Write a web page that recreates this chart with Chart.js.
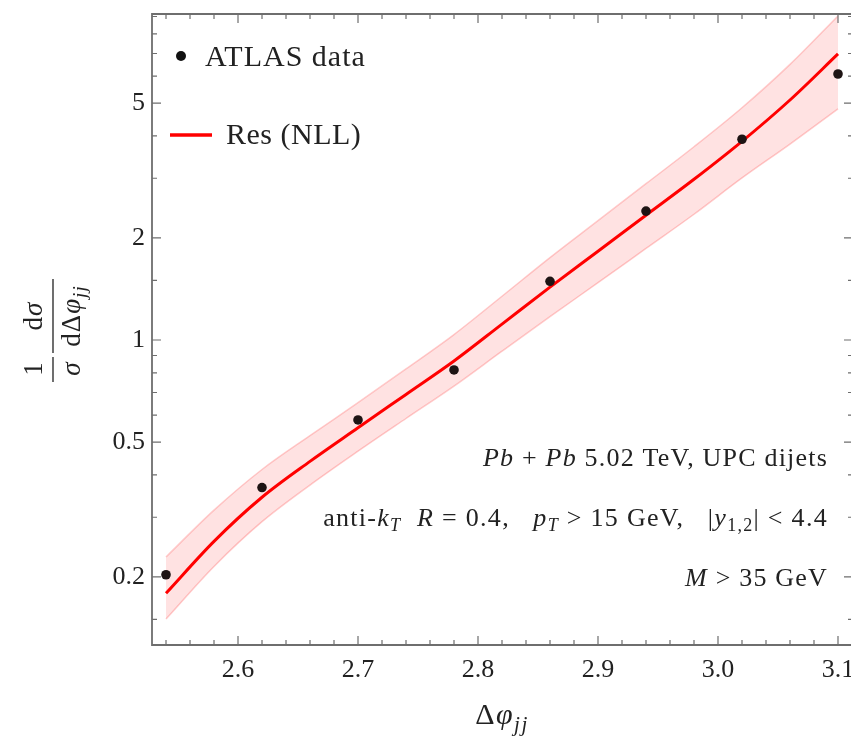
<!DOCTYPE html>
<html><head><meta charset="utf-8">
<script src="https://cdn.jsdelivr.net/npm/chart.js@4.4.1/dist/chart.umd.min.js"></script>
<style>
html,body{margin:0;padding:0;background:#fff;overflow:hidden;}
#wrap{width:851px;height:737px;overflow:hidden;position:relative;background:#fff;}
#c{position:absolute;left:0;top:0;}
</style></head><body>
<div id="wrap"><canvas id="c" width="880" height="737" style="width:880px;height:737px"></canvas></div>
<script>
// ---- data ----
const atlasPhi = [2.54, 2.62, 2.70, 2.78, 2.86, 2.94, 3.02, 3.10];
const atlasValues = [0.203, 0.367, 0.581, 0.816, 1.49, 2.40, 3.91, 6.09];
const curvePhi = [2.54, 2.58, 2.62, 2.66, 2.70, 2.74, 2.78, 2.82, 2.86, 2.90, 2.94, 2.98, 3.02, 3.06, 3.10];
const resCentral = [0.179, 0.2547, 0.3436, 0.4385, 0.5508, 0.691, 0.867, 1.114, 1.432, 1.828, 2.334, 2.979, 3.855, 5.105, 6.98];
const resUpper = [0.2291, 0.3148, 0.4150, 0.5224, 0.6531, 0.8214, 1.0375, 1.3459, 1.7498, 2.2491, 2.8907, 3.7154, 4.8417, 6.5013, 9.0365];
const resLower = [0.1503, 0.2148, 0.2911, 0.3733, 0.4699, 0.5867, 0.7311, 0.9268, 1.1722, 1.4757, 1.8621, 2.3496, 3.0061, 3.7844, 4.8084];
const xMajorTicks = [2.6, 2.7, 2.8, 2.9, 3.0, 3.1];
const xMinorTicks = [2.54, 2.56, 2.58, 2.62, 2.64, 2.66, 2.68, 2.72, 2.74, 2.76, 2.78, 2.82, 2.84, 2.86, 2.88, 2.92, 2.94, 2.96, 2.98, 3.02, 3.04, 3.06, 3.08];
const yMajorTicks = [0.2, 0.5, 1, 2, 5];
const yMinorTicks = [0.15, 0.3, 0.4, 0.6, 0.7, 0.8, 0.9, 1.5, 3, 4, 6, 7, 8, 9];
const xRange = [2.52833, 3.1125];
const yRange = [0.12597, 9.155];

const SERIF = '"Liberation Serif", "DejaVu Serif", serif';
const pts = (xs, ys) => xs.map((x, i) => ({x: x, y: ys[i]}));

function drawRich(ctx, segs, x, y, align, spacing) {
  ctx.letterSpacing = (spacing || 0) + 'px';
  let total = 0;
  const widths = segs.map(s => { ctx.font = s.f; const w = ctx.measureText(s.t).width; total += w; return w; });
  let cx = align === 'right' ? x - total : (align === 'center' ? x - total / 2 : x);
  ctx.textAlign = 'left';
  ctx.textBaseline = 'alphabetic';
  segs.forEach((s, i) => { ctx.font = s.f; ctx.fillText(s.t, cx, y + (s.dy || 0)); cx += widths[i]; });
  ctx.letterSpacing = '0px';
}

function noPad(s) { s.paddingTop = 0; s.paddingBottom = 0; s.paddingLeft = 0; s.paddingRight = 0; }

const deco = {
  id: 'deco',
  afterDraw(chart) {
    const ctx = chart.ctx, a = chart.chartArea;
    const xs = chart.scales.x, ys = chart.scales.y;
    ctx.save();
    // frame (left, top, bottom; right side lies beyond the visible page)
    ctx.strokeStyle = '#6e6e6e';
    ctx.lineWidth = 1.8;
    ctx.beginPath();
    ctx.moveTo(a.right + 5, a.top); ctx.lineTo(a.left, a.top); ctx.lineTo(a.left, a.bottom); ctx.lineTo(a.right + 5, a.bottom);
    ctx.stroke();
    ctx.lineWidth = 1.2;
    ctx.beginPath();
    const xt = (v, len) => {
      const p = xs.getPixelForValue(v);
      ctx.moveTo(p, a.bottom); ctx.lineTo(p, a.bottom - len);
      ctx.moveTo(p, a.top); ctx.lineTo(p, a.top + len);
    };
    const yt = (v, len) => {
      const p = ys.getPixelForValue(v);
      ctx.moveTo(a.left, p); ctx.lineTo(a.left + len, p);
      ctx.moveTo(a.right, p); ctx.lineTo(a.right - len, p);
    };
    xMajorTicks.forEach(v => xt(v, 9));
    xMinorTicks.forEach(v => xt(v, 5));
    yMajorTicks.forEach(v => yt(v, 9));
    yMinorTicks.forEach(v => yt(v, 5));
    ctx.stroke();

    // legend
    ctx.beginPath();
    ctx.fillStyle = '#111';
    ctx.arc(181, 56, 5, 0, Math.PI * 2);
    ctx.fill();
    ctx.fillStyle = '#222';
    drawRich(ctx, [{t: 'ATLAS data', f: '30px ' + SERIF}], 205, 66, 'left', 1);
    ctx.strokeStyle = '#ff0000';
    ctx.lineWidth = 3.5;
    ctx.beginPath(); ctx.moveTo(170, 135); ctx.lineTo(212, 135); ctx.stroke();
    drawRich(ctx, [{t: 'Res (NLL)', f: '30px ' + SERIF}], 226, 144, 'left', 0.5);

    // annotations
    const R = '26px ' + SERIF, I = 'italic 26px ' + SERIF, S = 'italic 18px ' + SERIF, SN = '18px ' + SERIF;
    drawRich(ctx, [{t: 'Pb', f: I}, {t: ' + ', f: R}, {t: 'Pb', f: I}, {t: ' 5.02 TeV, UPC dijets', f: R}], 828, 466, 'right', 1.2);
    drawRich(ctx, [{t: 'anti-', f: R}, {t: 'k', f: I}, {t: 'T', f: S, dy: 5}, {t: '  ', f: R}, {t: 'R', f: I}, {t: ' = 0.4,   ', f: R},
      {t: 'p', f: I}, {t: 'T', f: S, dy: 5}, {t: ' > 15 GeV,   |', f: R}, {t: 'y', f: I}, {t: '1,2', f: SN, dy: 5}, {t: '| < 4.4', f: R}], 828, 526, 'right', 1.3);
    drawRich(ctx, [{t: 'M', f: I}, {t: ' > 35 GeV', f: R}], 828, 586, 'right', 1.2);

    // x title
    drawRich(ctx, [{t: 'Δ', f: '30px ' + SERIF}, {t: 'φ', f: 'italic 30px ' + SERIF}, {t: 'jj', f: 'italic 21px ' + SERIF, dy: 7}], 502, 724, 'center', 1.5);

    // y title (rotated fraction)
    ctx.save();
    ctx.translate(53, 332);
    ctx.rotate(-Math.PI / 2);
    ctx.strokeStyle = '#222';
    ctx.lineWidth = 1.3;
    ctx.beginPath();
    ctx.moveTo(-50, 0); ctx.lineTo(-25, 0);
    ctx.moveTo(-21, 0); ctx.lineTo(53, 0);
    ctx.stroke();
    drawRich(ctx, [{t: '1', f: '27px ' + SERIF}], -37, -11, 'center');
    drawRich(ctx, [{t: 'σ', f: 'italic 27px ' + SERIF}], -37, 27, 'center');
    drawRich(ctx, [{t: 'd', f: '27px ' + SERIF}, {t: 'σ', f: 'italic 27px ' + SERIF}], 16, -11, 'center', 1);
    drawRich(ctx, [{t: 'dΔ', f: '27px ' + SERIF}, {t: 'φ', f: 'italic 27px ' + SERIF}, {t: 'jj', f: 'italic 19px ' + SERIF, dy: 6}], 16, 27, 'center', 1);
    ctx.restore();
    ctx.restore();
  }
};

new Chart(document.getElementById('c'), {
  type: 'line',
  data: {
    datasets: [
      {label: 'upper', data: pts(curvePhi, resUpper), borderColor: 'rgba(255,110,110,0.35)', borderWidth: 1.5,
        backgroundColor: 'rgba(255,0,0,0.115)', fill: '+1', pointRadius: 0, cubicInterpolationMode: 'monotone', order: 3},
      {label: 'lower', data: pts(curvePhi, resLower), borderColor: 'rgba(255,110,110,0.35)', borderWidth: 1.5,
        fill: false, pointRadius: 0, cubicInterpolationMode: 'monotone', order: 4},
      {label: 'Res (NLL)', data: pts(curvePhi, resCentral), borderColor: '#ff0000', borderWidth: 3,
        fill: false, pointRadius: 0, cubicInterpolationMode: 'monotone', order: 1},
      {label: 'ATLAS data', data: pts(atlasPhi, atlasValues), showLine: false, pointRadius: 4.8, pointHoverRadius: 4.8,
        pointBackgroundColor: '#1e1414', pointBorderWidth: 0, order: 0}
    ]
  },
  options: {
    responsive: false,
    animation: false,
    events: [],
    layout: {autoPadding: false, padding: {left: 0, top: 14, right: 27, bottom: 0}},
    plugins: {legend: {display: false}, tooltip: {enabled: false}},
    scales: {
      x: {
        type: 'linear', min: xRange[0], max: xRange[1],
        grid: {display: false, drawTicks: false}, border: {display: false},
        afterBuildTicks: s => { s.ticks = xMajorTicks.map(v => ({value: v})); },
        afterFit: s => { s.height = 92; noPad(s); },
        ticks: {autoSkip: false, maxRotation: 0, padding: 10, color: '#222', font: {family: SERIF, size: 26},
          callback: v => Number(v).toFixed(1)}
      },
      y: {
        type: 'logarithmic', min: yRange[0], max: yRange[1],
        grid: {display: false, drawTicks: false}, border: {display: false},
        afterBuildTicks: s => { s.ticks = yMajorTicks.map(v => ({value: v})); },
        afterFit: s => { s.width = 152; noPad(s); },
        ticks: {autoSkip: false, padding: 7, color: '#222', font: {family: SERIF, size: 26},
          callback: v => String(v)}
      }
    }
  },
  plugins: [deco]
});
</script>
</body></html>
